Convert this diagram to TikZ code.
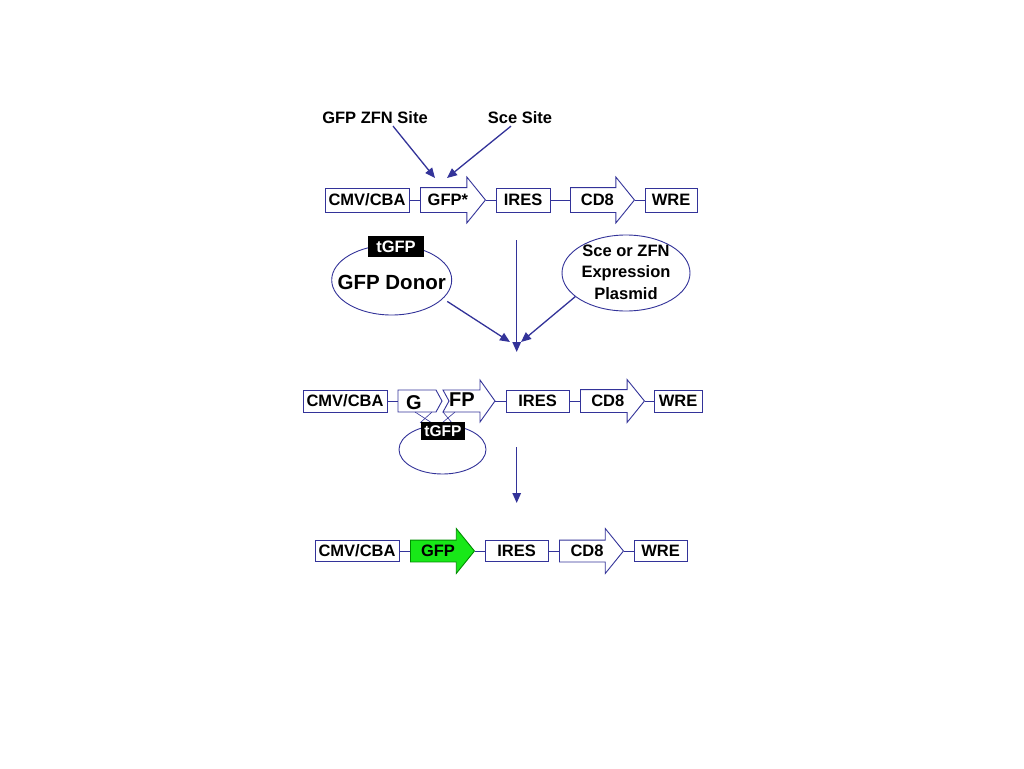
\documentclass[tikz,border=0pt]{standalone}
\usepackage{fontspec}
\setmainfont{Liberation Sans}
\usetikzlibrary{shapes.geometric, shapes.arrows, arrows.meta}
\definecolor{dnablue}{RGB}{51,51,153}
\definecolor{gfpgreen}{RGB}{24,232,24}

\begin{document}
\begin{tikzpicture}[x=1pt,y=-1pt,
  elem/.style={rectangle,draw=dnablue,line width=0.9pt,fill=white,font=\fontsize{16.5}{19}\selectfont\bfseries,inner xsep=1pt,inner ysep=0pt,text height=11.8pt,text depth=0pt,minimum height=24pt},
  orf/.style={single arrow,draw=dnablue,line width=0.9pt,fill=white,font=\fontsize{16.5}{19}\selectfont\bfseries,single arrow head extend=10.5pt,single arrow tip angle=102,minimum height=65pt,inner xsep=1pt,inner ysep=6.1pt,text height=11.8pt,text depth=0pt,anchor=tail},
  link/.style={draw=dnablue,line width=0.9pt},
  flow/.style={draw=dnablue,line width=1.3pt,-{Triangle[length=10pt,width=8.5pt]}},
  tag/.style={rectangle,fill=black,text=white,font=\fontsize{16.5}{19}\selectfont\bfseries,inner sep=0pt,text height=11.8pt,text depth=0pt},
  loop/.style={ellipse,draw=dnablue,line width=0.9pt,inner sep=0pt},
  sitelabel/.style={font=\fontsize{16.5}{19}\selectfont\bfseries,text height=11.8pt,text depth=0pt,inner sep=2pt}
]
\fill[white] (0,0) rectangle (1024,768);
\useasboundingbox (0,0) rectangle (1024,768);

% target sites
\node[sitelabel] (zfn) at (375,118) {GFP ZFN Site};
\node[sitelabel] (scesite) at (520,118) {Sce Site};
\coordinate (zfncut) at (435,178);
\coordinate (scecut) at (447,178);
\draw[flow] ([xshift=18pt]zfn.south) -- (zfncut);
\draw[flow] ([xshift=-9pt]scesite.south) -- (scecut);

% reporter
\node[elem,minimum width=84pt] (cmv1) at (367,200) {CMV/CBA};
\node[orf] (gfpa) at (420,200) {GFP*};
\node[elem,minimum width=54pt] (ires1) at (523,200) {IRES};
\node[orf,minimum height=64pt] (cd81) at (570,200) {CD8};
\node[elem,minimum width=52pt] (wre1) at (671,200) {WRE};
\draw[link] (cmv1.east) -- (gfpa.tail);
\draw[link] (gfpa.tip) -- (ires1.west);
\draw[link] (ires1.east) -- (cd81.tail);
\draw[link] (cd81.tip) -- (wre1.west);

% donor and nuclease
\node[loop,minimum width=120pt,minimum height=70pt] (donor) at (391.7,280) {};
\node[font=\fontsize{20.5}{24}\selectfont\bfseries] (donortxt) at (391.7,282) {GFP Donor};
\node[tag,minimum width=56pt,minimum height=21pt] (tag1) at (396,246.5) {tGFP};
\node[loop,minimum width=128pt,minimum height=76pt] (nuclease) at (626,273) {};
\node[font=\fontsize{16.5}{21.5}\selectfont\bfseries,align=center] (nucleasetxt) at (626,272) {Sce or ZFN\\Expression\\Plasmid};
\coordinate (mergetop) at (516.7,240);
\coordinate (mergept) at (516.7,352);
\coordinate (mergeleft) at (510,342);
\coordinate (mergeright) at (521,342);
\draw[flow] (mergetop) -- (mergept);
\draw[flow,shorten <=5pt] (donor.-20) -- (mergeleft);
\draw[flow] (nuclease.205) -- (mergeright);

% recombination
\node[elem,minimum width=84pt,minimum height=22pt] (cmv3) at (345,401) {CMV/CBA};
\draw[link,fill=white] (398,390) -- (436,390) -- (442,401) -- (436,412) -- (398,412) -- cycle;
\draw[link,fill=white] (443,390) -- (480,390) -- (480,380) -- (495,401) -- (480,422) -- (480,412) -- (443,412) -- (449,401) -- cycle;
\coordinate (g3tail) at (398,401);
\coordinate (fp3tip) at (495,401);
\node[font=\fontsize{20}{23}\selectfont\bfseries] (g3) at (414,403) {G};
\node[font=\fontsize{20}{23}\selectfont\bfseries] (fp3) at (462,400) {FP};
\node[elem,minimum width=63pt,minimum height=22pt] (ires3) at (537.5,401) {IRES};
\node[orf,minimum height=64pt,single arrow head extend=10pt,inner ysep=5.1pt] (cd83) at (580,401) {CD8};
\node[elem,minimum width=48pt,minimum height=22pt] (wre3) at (678,401) {WRE};
\draw[link] (cmv3.east) -- (g3tail);
\draw[link] (fp3tip) -- (ires3.west);
\draw[link] (ires3.east) -- (cd83.tail);
\draw[link] (cd83.tip) -- (wre3.west);
\node[loop,minimum width=87pt,minimum height=49pt] (loop3) at (442.5,449.5) {};
\draw[link,line width=0.6pt] (415,412) -- (432,423);
\draw[link,line width=0.6pt] (432,412) -- (420,423);
\draw[link,line width=0.6pt] (443,412) -- (452,423);
\draw[link,line width=0.6pt] (455,412) -- (442,423);
\node[tag,minimum width=44pt,minimum height=18pt,font=\fontsize{15.5}{18}\selectfont\bfseries] (tag3) at (443,431) {tGFP};
\coordinate (steptop) at (516.7,447);
\coordinate (stepend) at (516.7,503);
\draw[flow] (steptop) -- (stepend);

% corrected reporter
\node[elem,minimum width=84pt,minimum height=21pt] (cmv4) at (357,551) {CMV/CBA};
\node[orf,minimum height=64pt,single arrow head extend=11.5pt,inner ysep=4.6pt,fill=gfpgreen,draw=green!55!black] (gfp4) at (410,551) {GFP};
\node[elem,minimum width=63pt,minimum height=21pt] (ires4) at (516.5,551) {IRES};
\node[orf,minimum height=64pt,single arrow head extend=11.5pt,inner ysep=4.6pt] (cd84) at (559,551) {CD8};
\node[elem,minimum width=53pt,minimum height=21pt] (wre4) at (660.5,551) {WRE};
\draw[link] (cmv4.east) -- (gfp4.tail);
\draw[link] (gfp4.tip) -- (ires4.west);
\draw[link] (ires4.east) -- (cd84.tail);
\draw[link] (cd84.tip) -- (wre4.west);

\end{tikzpicture}
\end{document}
